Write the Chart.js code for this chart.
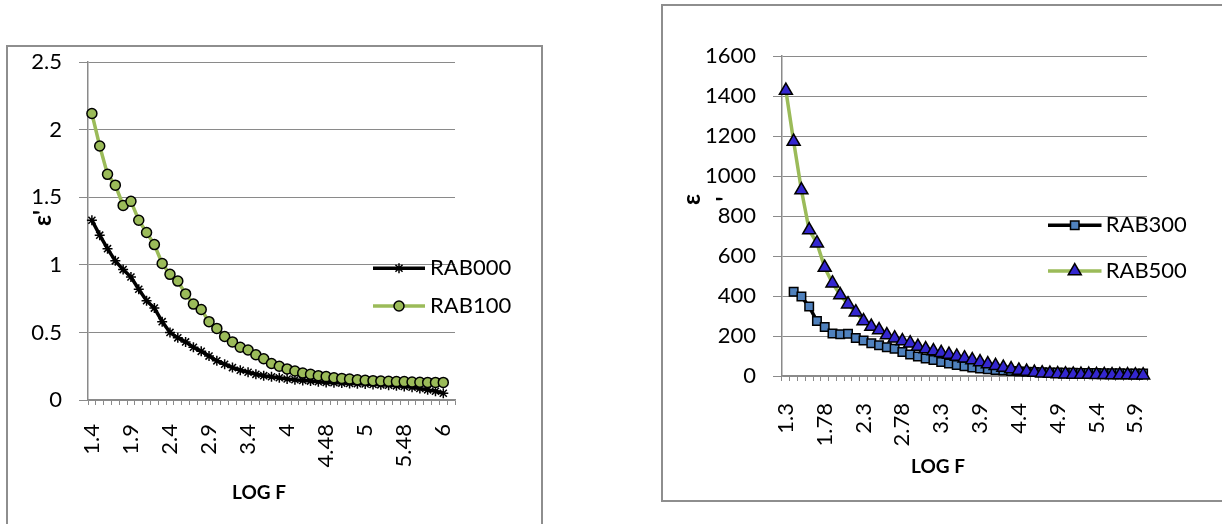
<!DOCTYPE html>
<html>
<head>
<meta charset="utf-8">
<script src="https://cdn.jsdelivr.net/npm/chart.js@4.4.0/dist/chart.umd.min.js"></script>
<style>
  html, body { margin: 0; padding: 0; background: #fff; width: 1222px; height: 524px; overflow: hidden; position: relative; }
  .frame { position: absolute; border: 2px solid #8e8e8e; box-sizing: border-box; }
  .box { position: absolute; }
</style>
</head>
<body>
<div class="frame" style="left:6px;top:45px;width:537px;height:520px;"></div>
<div class="box" style="left:8px;top:32px;width:533px;height:514px;"><canvas id="left" width="533" height="514"></canvas></div>
<div class="frame" style="left:661px;top:4px;width:620px;height:498px;"></div>
<div class="box" style="left:662px;top:5px;width:560px;height:497px;"><canvas id="right" width="560" height="497"></canvas></div>

<script>
// ---------- données : graphique de gauche ----------
const catsLeft = ['1.4','1.5','1.6','1.7','1.8','1.9','2','2.1','2.2','2.3',
  '2.4','2.5','2.6','2.7','2.8','2.9','3','3.1','3.2','3.3',
  '3.4','3.5','3.6','3.7','3.8','4','4.1','4.2','4.3','4.4',
  '4.48','4.6','4.7','4.8','4.9','5','5.1','5.2','5.3','5.4',
  '5.48','5.6','5.7','5.8','5.9','6','6.1'];

const rab000 = [1.33, 1.22, 1.12, 1.03, 0.965, 0.91, 0.82, 0.735, 0.68, 0.58,
  0.50, 0.46, 0.43, 0.39, 0.36, 0.325, 0.29, 0.265, 0.24, 0.22,
  0.205, 0.19, 0.18, 0.172, 0.165, 0.155, 0.15, 0.145, 0.14, 0.135,
  0.13, 0.128, 0.125, 0.122, 0.12, 0.118, 0.115, 0.112, 0.11, 0.105,
  0.10, 0.095, 0.085, 0.075, 0.065, 0.05];

const rab100 = [2.12, 1.88, 1.67, 1.59, 1.44, 1.47, 1.33, 1.24, 1.15, 1.01,
  0.93, 0.88, 0.785, 0.71, 0.67, 0.58, 0.53, 0.47, 0.43, 0.39,
  0.37, 0.335, 0.305, 0.27, 0.25, 0.23, 0.215, 0.20, 0.19, 0.18,
  0.173, 0.165, 0.16, 0.155, 0.15, 0.146, 0.143, 0.14, 0.138, 0.136,
  0.136, 0.133, 0.131, 0.13, 0.13, 0.13];

const yTicksLeft = [0, 0.5, 1, 1.5, 2, 2.5];

// ---------- données : graphique de droite ----------
const catsRight = ['1.3','1.4','1.5','1.6','1.7','1.78','1.9','2','2.1','2.2',
  '2.3','2.4','2.5','2.6','2.7','2.78','2.9','3','3.1','3.2',
  '3.3','3.4','3.5','3.6','3.78','3.9','4','4.1','4.2','4.3',
  '4.4','4.5','4.6','4.7','4.8','4.9','5','5.1','5.2','5.3',
  '5.4','5.5','5.6','5.7','5.8','5.9','6'];

const rab300 = [null, 421, 397, 347, 275, 245, 213, 209, 211, 190,
  178, 164, 154, 144, 136, 120, 108, 98, 88, 80,
  70, 62, 55, 49, 43, 38, 34, 30, 27, 25,
  23, 21, 20, 19, 18, 17, 16, 16, 15, 15,
  15, 14, 14, 14, 13, 13, 13];

const rab500 = [1427, 1172, 930, 730, 664, 542, 464, 405, 359, 319,
  275, 247, 230, 205, 189, 175, 164, 147, 135, 125,
  116, 107, 98, 89, 80, 70, 60, 51, 42, 35,
  28, 22, 17, 14, 12, 10, 9, 8, 7, 7,
  6, 6, 5, 5, 5, 4, 4];

const yTicksRight = [0, 200, 400, 600, 800, 1000, 1200, 1400, 1600];

// ---------- style ----------
const GRID = '#8a8a8a';
const VERT = '#9BBB59';
const FONT = 'Lato';
Chart.defaults.font.family = FONT;
Chart.defaults.color = '#000';

// légende façon Excel + titres d'axes, dessinés après les séries
function excelExtras(cfg) {
  return {
    id: 'excelExtras',
    afterDraw(chart) {
      const ctx = chart.ctx;
      ctx.save();
      cfg.legend.forEach((y, k) => {
        const ds = chart.data.datasets[k];
        ctx.strokeStyle = ds.borderColor;
        ctx.lineWidth = ds.borderWidth;
        ctx.beginPath();
        ctx.moveTo(cfg.lx0, y);
        ctx.lineTo(cfg.lx1, y);
        ctx.stroke();
        ctx.fillStyle = ds.pointBackgroundColor;
        ctx.strokeStyle = ds.pointBorderColor;
        ctx.lineWidth = ds.pointBorderWidth;
        Chart.helpers.drawPoint(ctx, { pointStyle: ds.pointStyle, radius: ds.pointRadius, borderWidth: ds.pointBorderWidth, rotation: 0 },
          (cfg.lx0 + cfg.lx1) / 2, y);
        ctx.fillStyle = '#000';
        ctx.font = '22px ' + FONT;
        ctx.textAlign = 'left';
        ctx.textBaseline = 'middle';
        ctx.fillText(ds.label, cfg.tx, y);
      });
      ctx.fillStyle = '#000';
      ctx.textAlign = 'center';
      ctx.textBaseline = 'middle';
      ctx.font = 'bold 19px ' + FONT;
      ctx.fillText('LOG F', cfg.xTitle[0], cfg.xTitle[1]);
      ctx.font = 'bold 24px ' + FONT;
      cfg.yTitle.forEach(t => {
        ctx.save();
        ctx.translate(t[1], t[2]);
        ctx.rotate(-Math.PI / 2);
        ctx.fillText(t[0], 0, 0);
        ctx.restore();
      });
      ctx.restore();
    }
  };
}

function xAxis(height, pad) {
  return {
    offset: true,
    grid: { offset: true, drawOnChartArea: false, drawTicks: true, tickLength: 5, color: GRID, lineWidth: 1 },
    border: { color: GRID, width: 1.5 },
    ticks: {
      autoSkip: false, minRotation: 90, maxRotation: 90, padding: pad,
      font: { size: 22 }, color: '#000',
      callback(v, i) { return i % 5 === 0 ? this.getLabelForValue(v) : ''; }
    },
    afterFit: s => { s.height = height; }
  };
}

function yAxis(ticks, width, pad) {
  return {
    min: ticks[0], max: ticks[ticks.length - 1],
    afterBuildTicks: s => { s.ticks = ticks.map(v => ({ value: v })); },
    grid: { color: GRID, lineWidth: 1, drawTicks: true, tickLength: 9 },
    border: { color: GRID, width: 1.5 },
    ticks: { padding: pad, font: { size: 22 }, color: '#000', callback: v => String(v) },
    afterFit: s => { s.width = width; }
  };
}

new Chart(document.getElementById('left'), {
  type: 'line',
  data: {
    labels: catsLeft,
    datasets: [
      { label: 'RAB000', data: rab000, order: 1, clip: false,
        borderColor: '#000', borderWidth: 3.5,
        pointStyle: 'star', pointRadius: 5, pointBorderWidth: 1.5,
        pointBackgroundColor: '#000', pointBorderColor: '#000' },
      { label: 'RAB100', data: rab100, order: 0, clip: false,
        borderColor: VERT, borderWidth: 3.5,
        pointStyle: 'circle', pointRadius: 5, pointBorderWidth: 1.5,
        pointBackgroundColor: VERT, pointBorderColor: '#000' }
    ]
  },
  options: {
    responsive: false, animation: false, devicePixelRatio: 1,
    layout: { padding: { left: 0, right: 86, top: 0, bottom: 26 } },
    plugins: { legend: { display: false }, tooltip: { enabled: false } },
    scales: { x: xAxis(120, 19), y: yAxis(yTicksLeft, 80, 17) }
  },
  plugins: [excelExtras({
    legend: [236.3, 274], lx0: 365, lx1: 417, tx: 422,
    xTitle: [251, 461],
    yTitle: [["ε'", 35, 186]]
  })]
});

new Chart(document.getElementById('right'), {
  type: 'line',
  data: {
    labels: catsRight,
    datasets: [
      { label: 'RAB300', data: rab300, order: 1, clip: false,
        borderColor: '#000', borderWidth: 3.5,
        pointStyle: 'rect', pointRadius: 6, pointBorderWidth: 1.5,
        pointBackgroundColor: '#4F81BD', pointBorderColor: '#000' },
      { label: 'RAB500', data: rab500, order: 0, clip: false,
        borderColor: VERT, borderWidth: 3.5,
        pointStyle: 'triangle', pointRadius: 7.5, pointBorderWidth: 1.5,
        pointBackgroundColor: '#3427cf', pointBorderColor: '#000' }
    ]
  },
  options: {
    responsive: false, animation: false, devicePixelRatio: 1,
    layout: { padding: { left: 0, right: 75, top: 51, bottom: 26 } },
    plugins: { legend: { display: false }, tooltip: { enabled: false } },
    scales: { x: xAxis(100, 22), y: yAxis(yTicksRight, 120, 17) }
  },
  plugins: [excelExtras({
    legend: [220.3, 266], lx0: 386, lx1: 439.5, tx: 443.7,
    xTitle: [276, 462],
    yTitle: [['ε', 30, 194.5], ["'", 64, 194]]
  })]
});
</script>
</body>
</html>
